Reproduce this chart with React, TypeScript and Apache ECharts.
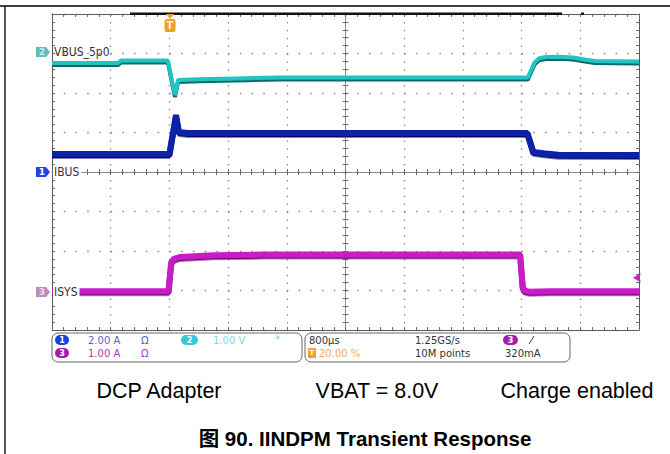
import React, { useEffect, useRef } from "react";
import * as echarts from "echarts";

// ---- time base: 800 µs/div, trigger at 20 % of record (t = 0) ----
const TIME_MIN_US = -1600;
const TIME_MAX_US = 6400;
const TIME_PER_DIV_US = 800;

// ---- channel 2 : VBUS_5p0 (V), 1.00 V/div ----
const vbusTimeUs = [-1600, -700, -660, -20, 75, 118, 400, 900, 1500, 4885, 4930, 4975, 5040, 5130, 5320, 5500, 5660, 5800, 6400];
const vbusVolts = [4.96, 4.96, 5.02, 5.02, 4.15, 4.53, 4.55, 4.57, 4.59, 4.59, 4.78, 4.97, 5.08, 5.11, 5.12, 5.10, 5.05, 5.01, 5.0];

// ---- channel 1 : IBUS (A), 2.00 A/div ----
const ibusTimeUs = [-1600, 0, 90, 130, 250, 4880, 4920, 4960, 5100, 5300, 6400];
const ibusAmps = [0.91, 0.91, 2.89, 2.02, 1.97, 1.97, 1.5, 1.02, 0.95, 0.87, 0.86];

// ---- channel 3 : ISYS (A), 1.00 A/div ----
const isysTimeUs = [-1600, -12, 25, 60, 150, 600, 1300, 4780, 4815, 4840, 4900, 5200, 6400];
const isysAmps = [-0.02, -0.02, 0.72, 0.8, 0.85, 0.89, 0.91, 0.91, 0.1, 0.0, -0.03, -0.02, -0.02];

// vertical ranges of each channel over the 8 screen divisions
const ch1Range = [-8, 8];
const ch2Range = [-1.8, 6.2];
const ch3Range = [-1, 7];
const triggerLevelA = 0.32;

// ---- labels ----
const channelLabels = ["IBUS", "VBUS_5p0", "ISYS"];
const statusLeftRow1 = ["2.00 A", "Ω", "1.00 V", "ᵇ"];
const statusLeftRow2 = ["1.00 A", "Ω"];
const statusMidRow1 = ["800µs", "1.25GS/s"];
const statusMidRow2 = ["20.00 %", "10M points", "320mA"];
const conditions = ["DCP Adapter", "VBAT = 8.0V", "Charge enabled"];
const title = "图 90. IINDPM Transient Response";

const zip = (xs: number[], ys: number[]) => xs.map((x, i) => [x, ys[i]]);

const SCOPE_FONT = '"Liberation Sans Narrow", "DejaVu Sans Condensed", "DejaVu Sans", sans-serif';
const UI_FONT = '"DejaVu Sans", "Open Sans", sans-serif';
const DOC_FONT = '"Liberation Sans", Arial, "Noto Sans CJK SC", sans-serif';

function chanTag(y: number, fill: string, num: string, textFill: string) {
  return {
    type: "group",
    children: [
      {
        type: "polygon",
        shape: { points: [[36, y - 5], [46, y - 5], [50, y], [46, y + 5], [36, y + 5]] },
        style: { fill },
      },
      {
        type: "text",
        style: { text: num, x: 42, y, fill: textFill, font: "bold 9px " + UI_FONT, textAlign: "center", textVerticalAlign: "middle" },
      },
    ],
  };
}

function pill(x: number, y: number, w: number, fill: string, num: string) {
  return {
    type: "group",
    children: [
      { type: "rect", shape: { x, y, width: w, height: 10, r: 5 }, style: { fill } },
      {
        type: "text",
        style: { text: num, x: x + w / 2, y: y + 5, fill: "#ffffff", font: "bold 8px " + UI_FONT, textAlign: "center", textVerticalAlign: "middle" },
      },
    ],
  };
}

function uiText(text: string, x: number, y: number, fill: string, size = 10) {
  return {
    type: "text",
    style: { text, x, y, fill, font: `${size}px ${UI_FONT}`, textVerticalAlign: "middle", lineHeight: size + 1 },
  };
}

export default function App() {
  const ref = useRef<HTMLDivElement>(null);

  useEffect(() => {
    if (!ref.current) return;
    const chart = echarts.init(ref.current, undefined, { renderer: "svg" });

    const tickStyle = { color: "#6a6a6a", width: 1 };
    const borderLine = { color: "#5a5a5a", width: 1 };
    const gridDots = { color: "#8a8a8a", width: 1.3 };

    const option: any = {
      animation: false,
      backgroundColor: "#ffffff",
      grid: { left: 52, top: 14, width: 587, height: 316 },
      xAxis: [
        {
          type: "value", min: TIME_MIN_US, max: TIME_MAX_US, interval: TIME_PER_DIV_US, position: "bottom",
          axisLine: { show: true, onZero: false, lineStyle: borderLine },
          axisTick: { show: true, inside: true, length: 3, lineStyle: tickStyle },
          minorTick: { show: true, splitNumber: 5, length: 3, lineStyle: tickStyle },
          axisLabel: { show: false },
          splitLine: { show: true, lineStyle: { ...gridDots, type: [1.5, 6.4] } },
        },
        {
          type: "value", min: TIME_MIN_US, max: TIME_MAX_US, interval: TIME_PER_DIV_US, position: "top",
          axisLine: { show: true, onZero: false, lineStyle: borderLine },
          axisTick: { show: true, inside: true, length: 3, lineStyle: tickStyle },
          minorTick: { show: true, splitNumber: 5, length: 3, lineStyle: tickStyle },
          axisLabel: { show: false },
          splitLine: { show: false },
        },
        {
          type: "value", min: -25, max: 25, interval: 1, position: "bottom",
          axisLine: { show: true, onZero: true, onZeroAxisIndex: 0, lineStyle: { color: "#8a8a8a", width: 1 } },
          axisTick: { show: true, inside: true, length: 3, lineStyle: tickStyle },
          axisLabel: { show: false },
          splitLine: { show: false },
        },
        {
          type: "value", min: -25, max: 25, interval: 1, position: "bottom",
          axisLine: { show: false, onZero: true, onZeroAxisIndex: 0 },
          axisTick: { show: true, inside: false, length: 3, lineStyle: tickStyle },
          axisLabel: { show: false },
          splitLine: { show: false },
        },
      ],
      yAxis: [
        { type: "value", min: ch1Range[0], max: ch1Range[1], show: false, axisLine: { onZero: false } },
        { type: "value", min: ch2Range[0], max: ch2Range[1], show: false, axisLine: { onZero: false } },
        { type: "value", min: ch3Range[0], max: ch3Range[1], show: false, axisLine: { onZero: false } },
        {
          type: "value", min: -20, max: 20, interval: 5, position: "left",
          axisLine: { show: true, onZero: false, lineStyle: borderLine },
          axisTick: { show: true, inside: true, length: 3, lineStyle: tickStyle },
          minorTick: { show: true, splitNumber: 5, length: 3, lineStyle: tickStyle },
          axisLabel: { show: false },
          splitLine: { show: true, lineStyle: { ...gridDots, type: [1.5, 10.24] } },
        },
        {
          type: "value", min: -20, max: 20, interval: 5, position: "right",
          axisLine: { show: true, onZero: false, lineStyle: borderLine },
          axisTick: { show: true, inside: true, length: 3, lineStyle: tickStyle },
          minorTick: { show: true, splitNumber: 5, length: 3, lineStyle: tickStyle },
          axisLabel: { show: false },
          splitLine: { show: false },
        },
        {
          type: "value", min: -20, max: 20, interval: 1, position: "left",
          axisLine: { show: true, onZero: true, onZeroAxisIndex: 2, lineStyle: { color: "#8a8a8a", width: 1 } },
          axisTick: { show: true, inside: true, length: 3, lineStyle: tickStyle },
          axisLabel: { show: false },
          splitLine: { show: false },
        },
        {
          type: "value", min: -20, max: 20, interval: 1, position: "left",
          axisLine: { show: false, onZero: true, onZeroAxisIndex: 2 },
          axisTick: { show: true, inside: false, length: 3, lineStyle: tickStyle },
          axisLabel: { show: false },
          splitLine: { show: false },
        },
      ],
      series: [
        {
          name: "IBUS", type: "line", xAxisIndex: 0, yAxisIndex: 0, data: zip(ibusTimeUs, ibusAmps),
          symbol: "none", silent: true, z: 5,
          lineStyle: { color: "#1021a8", width: 6, shadowColor: "#06106a", shadowOffsetY: 1.5, shadowBlur: 0 },
        },
        {
          name: "VBUS_5p0", type: "line", xAxisIndex: 0, yAxisIndex: 1, data: zip(vbusTimeUs, vbusVolts),
          symbol: "none", silent: true, z: 5,
          lineStyle: { color: "#22c3c3", width: 4, shadowColor: "#0a6a6a", shadowOffsetY: 2, shadowBlur: 0 },
        },
        {
          name: "ISYS", type: "line", xAxisIndex: 0, yAxisIndex: 2, data: zip(isysTimeUs, isysAmps),
          symbol: "none", silent: true, z: 5,
          lineStyle: { color: "#c81ec8", width: 6, shadowColor: "#6e006e", shadowOffsetY: 1.5, shadowBlur: 0 },
          markPoint: {
            symbol: "arrow", symbolSize: [7, 8], symbolRotate: 90, symbolOffset: [-6, 0],
            itemStyle: { color: "#c81ec8" }, label: { show: false }, silent: true,
            data: [{ coord: [TIME_MAX_US, triggerLevelA] }],
          },
        },
      ],
      graphic: [
        // page frame
        { type: "line", shape: { x1: 0, y1: 6, x2: 670, y2: 6 }, style: { stroke: "#000", lineWidth: 1.3 } },
        { type: "line", shape: { x1: 5, y1: 6, x2: 5, y2: 454 }, style: { stroke: "#000", lineWidth: 1.3 } },
        // record bar at top
        { type: "rect", shape: { x: 130, y: 12.5, width: 432, height: 2.5 }, style: { fill: "#111" }, z: 20 },
        { type: "rect", shape: { x: 581, y: 12.5, width: 3, height: 2.5 }, style: { fill: "#111" }, z: 20 },
        // trigger position marker
        { type: "polygon", shape: { points: [[166, 14], [174, 14], [170, 19]] }, style: { fill: "#f0a02c" }, z: 20 },
        { type: "rect", shape: { x: 164.5, y: 19, width: 11, height: 13, r: 2 }, style: { fill: "#f0a02c" }, z: 20 },
        { type: "text", style: { text: "T", x: 170, y: 25.5, fill: "#fff4d8", font: "bold 10px " + UI_FONT, textAlign: "center", textVerticalAlign: "middle" }, z: 21 },
        // channel reference tags
        chanTag(52, "#5ebebe", "2", "#c8f0f0"),
        chanTag(172, "#2440e6", "1", "#ffffff"),
        chanTag(292, "#b98cb9", "3", "#f0dcf0"),
        {
          type: "text", z: 30,
          style: { text: channelLabels[1], x: 54, y: 52, fill: "#333", font: "12px " + SCOPE_FONT, textVerticalAlign: "middle" },
        },
        {
          type: "text", z: 30,
          style: { text: channelLabels[0], x: 53, y: 172, fill: "#333", font: "12px " + SCOPE_FONT, textVerticalAlign: "middle", backgroundColor: "#fff", padding: [1, 2, 1, 1] },
        },
        {
          type: "text", z: 30,
          style: { text: channelLabels[2], x: 53, y: 292, fill: "#333", font: "12px " + SCOPE_FONT, textVerticalAlign: "middle", backgroundColor: "#fff", padding: [1, 2, 1, 1] },
        },
        // status boxes
        { type: "rect", shape: { x: 52, y: 333, width: 250, height: 29, r: 6 }, style: { fill: "none", stroke: "#666", lineWidth: 1 } },
        { type: "rect", shape: { x: 305, y: 333, width: 265, height: 29, r: 6 }, style: { fill: "none", stroke: "#666", lineWidth: 1 } },
        pill(55, 335, 14, "#1d3de2", "1"),
        uiText(statusLeftRow1[0], 88, 340, "#5b5fc0"),
        uiText(statusLeftRow1[1], 141, 340, "#5b5fc0"),
        pill(181, 335, 17, "#38c8d8", "2"),
        uiText(statusLeftRow1[2], 213, 340, "#7fd8e2"),
        uiText(statusLeftRow1[3], 276, 339, "#38b8d0", 9),
        pill(55, 348, 14, "#a21ea8", "3"),
        uiText(statusLeftRow2[0], 88, 353.5, "#a444b0"),
        uiText(statusLeftRow2[1], 141, 353.5, "#a444b0"),
        uiText(statusMidRow1[0], 309, 340, "#333"),
        uiText(statusMidRow1[1], 415, 340, "#333"),
        pill(503, 335, 15, "#a21ea8", "3"),
        { type: "line", shape: { x1: 529, y1: 344, x2: 534, y2: 336 }, style: { stroke: "#333", lineWidth: 1 } },
        { type: "rect", shape: { x: 308, y: 348, width: 8, height: 10, r: 1 }, style: { fill: "#f0a02c" } },
        { type: "text", style: { text: "T", x: 312, y: 353, fill: "#fff", font: "bold 7px " + UI_FONT, textAlign: "center", textVerticalAlign: "middle" } },
        uiText(statusMidRow2[0], 319, 353.5, "#f2b050"),
        uiText(statusMidRow2[1], 415, 353.5, "#333"),
        uiText(statusMidRow2[2], 505, 353.5, "#333"),
        // test conditions
        { type: "text", style: { text: conditions[0], x: 159, y: 391, fill: "#000", font: "21.5px " + DOC_FONT, textAlign: "center", textVerticalAlign: "middle" } },
        { type: "text", style: { text: conditions[1], x: 377, y: 391, fill: "#000", font: "21.5px " + DOC_FONT, textAlign: "center", textVerticalAlign: "middle" } },
        { type: "text", style: { text: conditions[2], x: 577, y: 391, fill: "#000", font: "21.5px " + DOC_FONT, textAlign: "center", textVerticalAlign: "middle" } },
        // caption
        { type: "text", style: { text: title, x: 365, y: 438, fill: "#000", font: "bold 20.5px " + DOC_FONT, textAlign: "center", textVerticalAlign: "middle" } },
      ],
    };

    chart.setOption(option);
    return () => chart.dispose();
  }, []);

  return (
    <div
      ref={ref}
      style={{ position: "fixed", left: 0, top: 0, width: 670, height: 454, background: "#fff" }}
    />
  );
}
